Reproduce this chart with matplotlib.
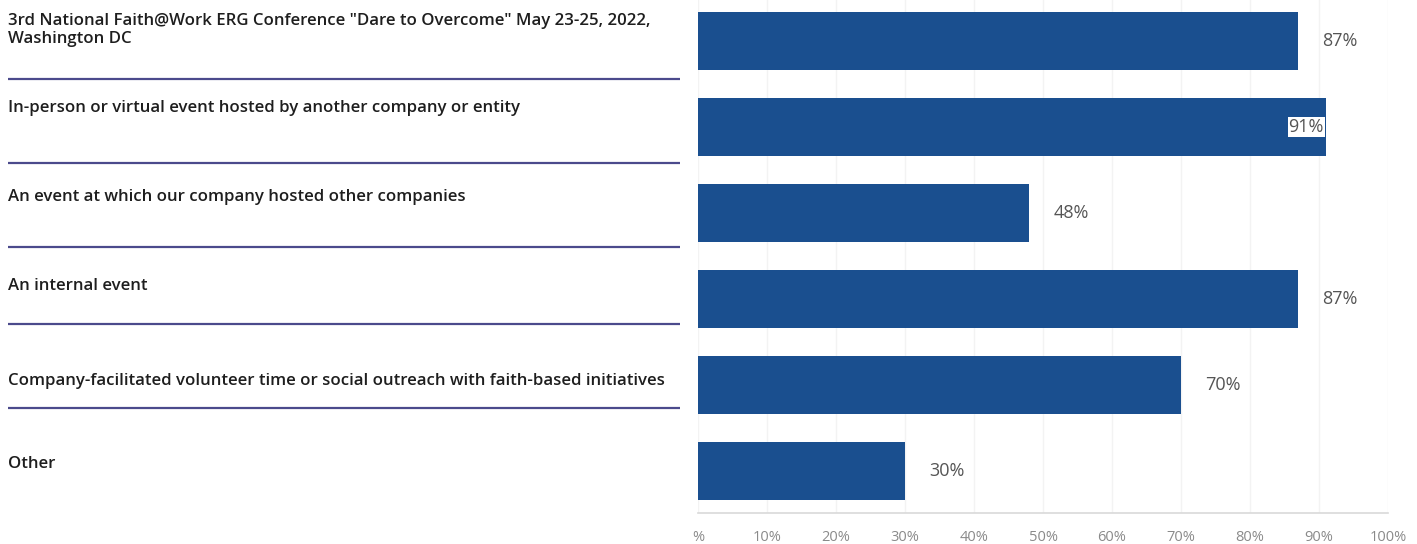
import matplotlib
matplotlib.use("Agg")
import matplotlib.pyplot as plt

# ── Data ──────────────────────────────────────────────────────────────────────
categories = [
    '3rd National Faith@Work ERG Conference "Dare to Overcome" May 23-25, 2022,\nWashington DC',
    "In-person or virtual event hosted by another company or entity",
    "An event at which our company hosted other companies",
    "An internal event",
    "Company-facilitated volunteer time or social outreach with faith-based initiatives",
    "Other",
]
values = [87, 91, 48, 87, 70, 30]
tick_values = [0, 10, 20, 30, 40, 50, 60, 70, 80, 90, 100]
tick_labels = ["%", "10%", "20%", "30%", "40%", "50%", "60%", "70%", "80%", "90%", "100%"]

# ── Layout (figure pixels) ────────────────────────────────────────────────────
W, H = 1417, 544
label_y = [30, 108, 197, 286, 381, 464]      # text centre of each label block
divider_y = [79, 163, 247, 324, 408]          # rules between label blocks
BAR_COLOR = "#1a4f8f"
RULE_COLOR = "#4b4a8c"

fig = plt.figure(figsize=(W / 100, H / 100), dpi=100)
fig.patch.set_facecolor("white")

# left panel: labels + rules, drawn in pixel coordinates
lax = fig.add_axes([0, 0, 1, 1])
lax.set_xlim(0, W)
lax.set_ylim(H, 0)
lax.axis("off")
for cat, y in zip(categories, label_y):
    lax.text(8, y, cat, ha="left", va="center", fontsize=12.1,
             family="Open Sans", fontweight="semibold", color="#1e1e1e",
             linespacing=1.2)
for y in divider_y:
    lax.plot([8, 680], [y, y], color=RULE_COLOR, lw=1.6, solid_capstyle="butt")

# right panel: horizontal bars
ax = fig.add_axes([698 / W, 1 - 513 / H, (1388 - 698) / W, 513 / H])
ax.set_zorder(2)
ax.patch.set_alpha(0)
pos = list(range(len(values)))
ax.barh(pos, values, height=0.674, color=BAR_COLOR, zorder=3)
ax.set_xlim(0, 100)
ax.set_ylim(5.488, -0.477)
ax.set_yticks([])
ax.set_xticks(tick_values)
ax.set_xticklabels(tick_labels, family="Open Sans", fontsize=10.5, color="#8a8a8a")
ax.tick_params(axis="x", length=0, pad=12)
ax.grid(axis="x", color="#f3f3f3", lw=1, zorder=0)
for s in ["top", "right", "left"]:
    ax.spines[s].set_visible(False)
ax.spines["bottom"].set_color("#d9d9d9")
ax.spines["bottom"].set_linewidth(1.2)

for i, v in enumerate(values):
    if v >= 90:
        ax.text(v - 0.3, i, f"{v}%", ha="right", va="center", fontsize=13,
                family="Open Sans", color="#555555", zorder=4,
                bbox=dict(boxstyle="square,pad=0.05", fc="white", ec="none"))
    else:
        ax.text(v + 3.5, i, f"{v}%", ha="left", va="center", fontsize=13,
                family="Open Sans", color="#555555", zorder=4)

fig.savefig("out.png", dpi=100, facecolor="white")
